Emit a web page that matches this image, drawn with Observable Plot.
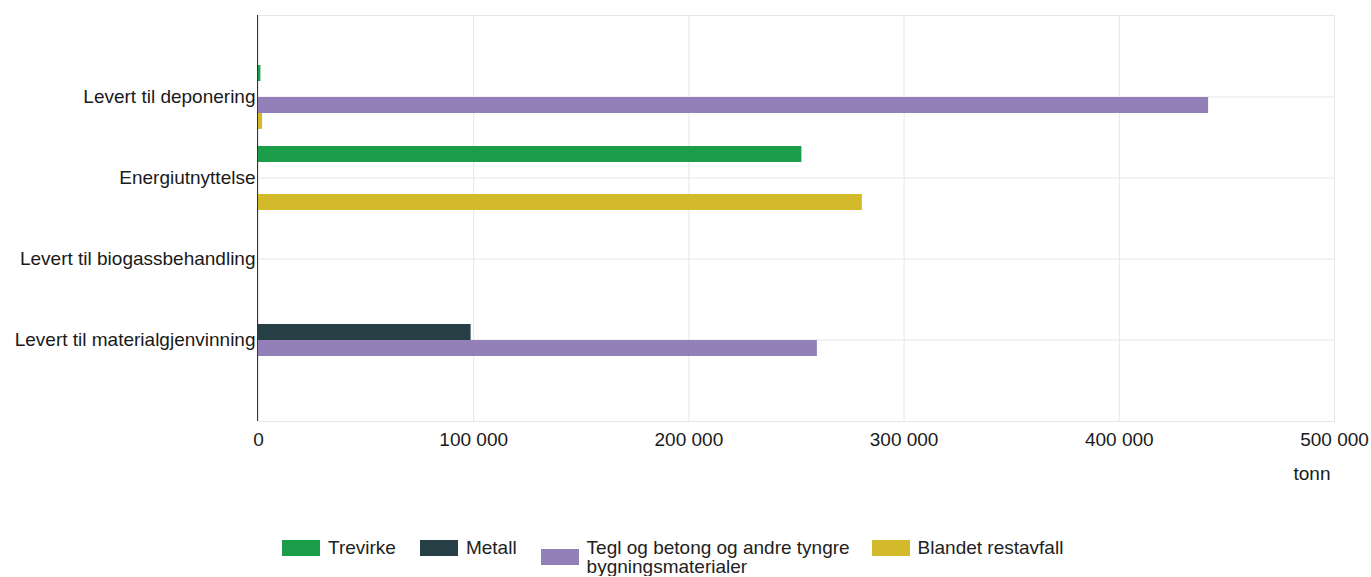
<!DOCTYPE html>
<html>
<head>
<meta charset="utf-8">
<script src="https://cdn.jsdelivr.net/npm/d3@7"></script>
<script src="https://cdn.jsdelivr.net/npm/@observablehq/plot@0.6"></script>
<style>
  body { margin: 0; background: #fff; font-family: "Liberation Sans", Arial, sans-serif; color: #222; }
  #chart { position: relative; width: 1371px; height: 500px; }
  #chart svg { position: absolute; left: 0; top: 0; }
  #legend { display: flex; align-items: flex-start; margin: 38px 0 0 282px; font-size: 19px; line-height: 19px; }
  .item { display: flex; align-items: center; margin-right: 24px; }
  .item.long { margin-right: 17px; }
  .sw { width: 38px; height: 16px; margin-right: 8px; flex: none; }
  .wrap { max-width: 268px; }
</style>
</head>
<body>
<div id="chart"></div>
<div id="legend"></div>
<script>
// Treatment categories (one group of bars each)
const categories = [
  "Levert til deponering",
  "Energiutnyttelse",
  "Levert til biogassbehandling",
  "Levert til materialgjenvinning"
];

// Waste fractions
const seriesNames = [
  "Trevirke",
  "Metall",
  "Tegl og betong og andre tyngre bygningsmaterialer",
  "Blandet restavfall"
];
const seriesColors = ["#1b9d4a", "#263f45", "#9480b9", "#d3ba2b"];

// Tonnes per category, in the order of `categories`
const trevirke = [1100, 252500, 0, 0];
const metall   = [0, 0, 0, 98800];
const tegl     = [441500, 0, 0, 259700];
const blandet  = [1900, 280600, 0, 0];

const xTicks = [0, 100000, 200000, 300000, 400000, 500000];
const unitLabel = "tonn";

const valuesBySeries = [trevirke, metall, tegl, blandet];
const rows = [];
categories.forEach((category, i) => {
  seriesNames.forEach((series, j) => {
    rows.push({category, series, value: valuesBySeries[j][i]});
  });
});

const fmt = d => d3.format(",")(d).replace(/,/g, " ");
const grid = "#e6e6e6";
const font = '"Liberation Sans", Arial, sans-serif';

// Shared frame geometry for both layers
const frame = {
  width: 1371,
  height: 500,
  marginTop: 15,
  marginBottom: 79,
  marginLeft: 258,
  marginRight: 37
};

// Layer 1: frame, grid, axes and category labels
const base = Plot.plot({
  ...frame,
  style: {fontFamily: font, fontSize: "19px", color: "#1a1a1a", background: "#fff"},
  x: {domain: [0, 500000], axis: null},
  y: {type: "band", domain: categories, axis: null, paddingInner: 0, paddingOuter: 0.5},
  marks: [
    Plot.frame({stroke: grid}),
    Plot.gridX(xTicks, {stroke: grid, strokeOpacity: 1}),
    Plot.gridY({stroke: grid, strokeOpacity: 1}),
    Plot.axisY({anchor: "left", tickSize: 0, tickPadding: 3, label: null}),
    Plot.axisX(xTicks, {tickSize: 0, tickPadding: 11, tickFormat: fmt, label: null}),
    Plot.text([unitLabel], {
      frameAnchor: "bottom-right",
      textAnchor: "end",
      lineAnchor: "middle",
      dx: -4,
      dy: 52,
      fill: "#1a1a1a"
    }),
    Plot.ruleX([0], {stroke: "#333", dx: -1})
  ]
});

// Layer 2: grouped bars, one facet row per category
const bars = Plot.plot({
  ...frame,
  style: {fontFamily: font, fontSize: "19px", background: "transparent"},
  x: {domain: [0, 500000], axis: null},
  y: {domain: seriesNames, axis: null, paddingInner: 0, paddingOuter: 0.46},
  fy: {domain: categories, axis: null, paddingInner: 0, paddingOuter: 0.5},
  color: {domain: seriesNames, range: seriesColors},
  marks: [
    Plot.barX(rows, {fy: "category", y: "series", x: "value", fill: "series"}),
    Plot.ruleX([0], {stroke: "#333", dx: -1})
  ]
});

document.getElementById("chart").append(base, bars);

// Legend built from the same series and colours
const legend = document.getElementById("legend");
seriesNames.forEach((name, i) => {
  const item = document.createElement("div");
  item.className = "item";
  const sw = document.createElement("div");
  sw.className = "sw";
  sw.style.background = seriesColors[i];
  const label = document.createElement("div");
  label.textContent = name;
  if (name.length > 30) {
    label.className = "wrap";
    item.classList.add("long");
  }
  item.append(sw, label);
  legend.append(item);
});
</script>
</body>
</html>
